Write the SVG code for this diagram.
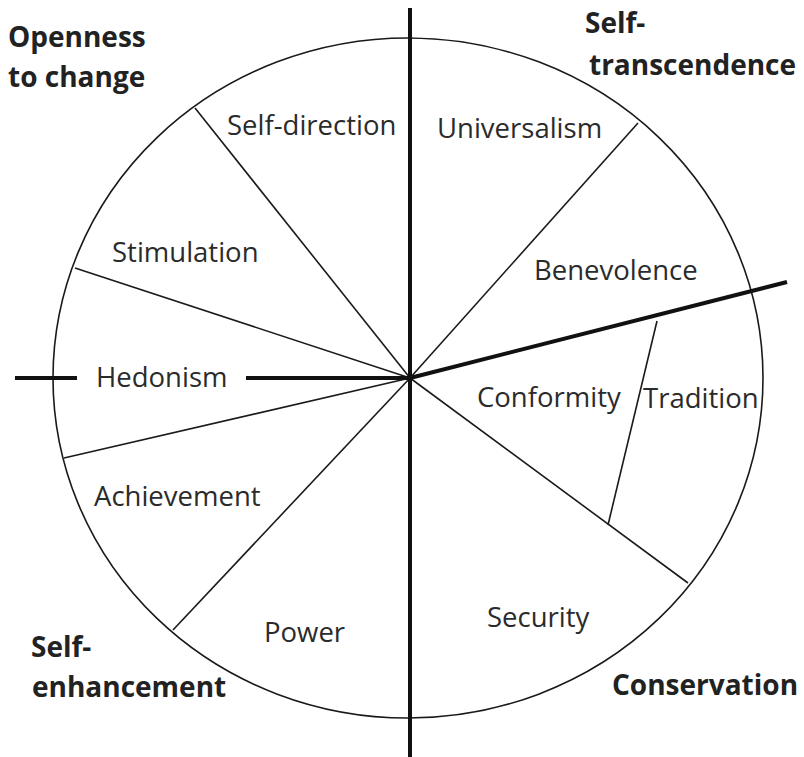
<svg xmlns="http://www.w3.org/2000/svg" width="804" height="757" viewBox="0 0 804 757">
<style>
.thin{stroke:#1a1a1a;stroke-width:1.6;fill:none}
.thick{stroke:#111;stroke-width:4;fill:none}
.lbl{font-family:"Open Sans","Liberation Sans",sans-serif;font-size:27.5px;fill:#2b2b2b}
.grp{font-family:"Open Sans","Liberation Sans",sans-serif;font-size:28px;font-weight:bold;fill:#222}
</style>
<rect width="804" height="757" fill="#fff"/>
<g id="connectors">
<ellipse class="thin" cx="408" cy="378" rx="355" ry="340"/>
<line class="thin" x1="410" y1="378" x2="195" y2="108"/>
<line class="thin" x1="410" y1="378" x2="75" y2="268"/>
<line class="thin" x1="410" y1="378" x2="64" y2="458"/>
<line class="thin" x1="410" y1="378" x2="173" y2="630"/>
<line class="thin" x1="410" y1="378" x2="638" y2="123"/>
<line class="thin" x1="410" y1="378" x2="688" y2="583"/>
<line class="thin" x1="657" y1="321" x2="608" y2="525"/>
<line class="thick" x1="410" y1="378" x2="787" y2="282"/>
<line class="thick" x1="410" y1="8" x2="410" y2="757"/>
<line class="thick" x1="15" y1="378" x2="77" y2="378"/>
<line class="thick" x1="246" y1="378" x2="410" y2="378"/>
</g>
<g id="openness"><text class="grp" x="8" y="47">Openness</text><text class="grp" x="8" y="87">to change</text></g>
<g id="self-transcendence"><text class="grp" x="585" y="33">Self-</text><text class="grp" x="589" y="75">transcendence</text></g>
<g id="self-enhancement"><text class="grp" x="31" y="657">Self-</text><text class="grp" x="32" y="697">enhancement</text></g>
<g id="conservation"><text class="grp" x="612" y="695">Conservation</text></g>
<g id="self-direction"><text class="lbl" x="227" y="135">Self-direction</text></g>
<g id="universalism"><text class="lbl" x="437" y="138">Universalism</text></g>
<g id="stimulation"><text class="lbl" x="112" y="262">Stimulation</text></g>
<g id="benevolence"><text class="lbl" x="534" y="280">Benevolence</text></g>
<g id="hedonism"><text class="lbl" x="96" y="387">Hedonism</text></g>
<g id="conformity"><text class="lbl" x="477" y="407">Conformity</text></g>
<g id="tradition"><text class="lbl" x="643" y="408">Tradition</text></g>
<g id="achievement"><text class="lbl" x="94" y="506">Achievement</text></g>
<g id="power"><text class="lbl" x="264" y="642">Power</text></g>
<g id="security"><text class="lbl" x="487" y="627">Security</text></g>
</svg>
